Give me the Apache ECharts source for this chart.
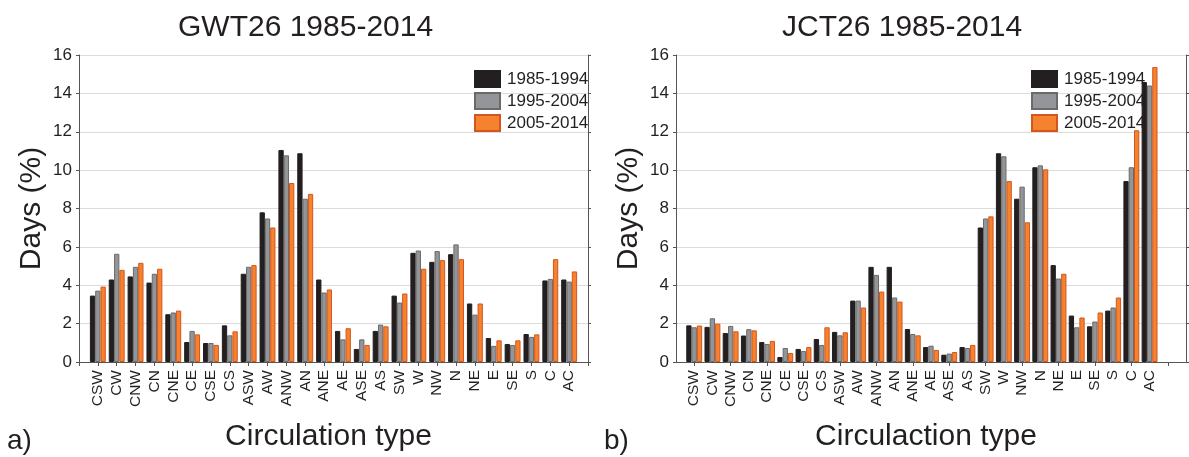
<!DOCTYPE html>
<html>
<head>
<meta charset="utf-8">
<script src="https://cdn.jsdelivr.net/npm/echarts@6/dist/echarts.min.js"></script>
<style>
  html, body { margin: 0; padding: 0; background: #fff; }
  #chart { width: 1189px; height: 457px; }
</style>
</head>
<body>
<div id="chart"></div>
<script>
// circulation types (same order in both panels)
const types = ['CSW', 'CW', 'CNW', 'CN', 'CNE', 'CE', 'CSE', 'CS', 'ASW', 'AW', 'ANW', 'AN', 'ANE',
  'AE', 'ASE', 'AS', 'SW', 'W', 'NW', 'N', 'NE', 'E', 'SE', 'S', 'C', 'AC'];
const periods = ['1985-1994', '1995-2004', '2005-2014'];
const yTicks = [0, 2, 4, 6, 8, 10, 12, 14, 16];

// a) GWT26, days (%)
const gwt1985 = [3.46, 4.30, 4.46, 4.14, 2.49, 1.04, 0.99, 1.91, 4.60, 7.80, 11.05, 10.88, 4.30,
  1.62, 0.68, 1.62, 3.46, 5.69, 5.22, 5.62, 3.05, 1.25, 0.94, 1.46, 4.25, 4.30];
const gwt1995 = [3.72, 5.64, 4.96, 4.60, 2.58, 1.62, 0.99, 1.39, 4.96, 7.48, 10.77, 8.51, 3.62,
  1.18, 1.18, 1.95, 3.10, 5.81, 5.78, 6.13, 2.47, 0.84, 0.89, 1.31, 4.33, 4.19];
const gwt2005 = [3.93, 4.80, 5.17, 4.86, 2.68, 1.44, 0.89, 1.60, 5.05, 7.01, 9.33, 8.76, 3.78,
  1.76, 0.89, 1.86, 3.57, 4.86, 5.31, 5.36, 3.05, 1.13, 1.13, 1.44, 5.36, 4.72];

// b) JCT26, days (%)
const jct1985 = [1.91, 1.83, 1.51, 1.38, 1.04, 0.26, 0.68, 1.20, 1.57, 3.20, 4.96, 4.96, 1.72,
  0.78, 0.38, 0.78, 7.01, 10.88, 8.51, 10.15, 5.05, 2.42, 1.86, 2.68, 9.43, 14.59];
const jct1995 = [1.81, 2.28, 1.88, 1.71, 0.94, 0.73, 0.57, 0.89, 1.39, 3.20, 4.54, 3.36, 1.46,
  0.85, 0.44, 0.73, 7.48, 10.72, 9.14, 10.25, 4.35, 1.81, 2.11, 2.84, 10.15, 14.41];
const jct2005 = [1.90, 2.00, 1.60, 1.65, 1.10, 0.47, 0.78, 1.81, 1.55, 2.84, 3.67, 3.15, 1.39,
  0.63, 0.52, 0.89, 7.59, 9.43, 7.28, 10.04, 4.60, 2.32, 2.58, 3.36, 12.08, 15.37];

const font = "'Liberation Sans', Arial, sans-serif";
const textColor = '#231f20';
const lineColor = '#555';
const fills = ['#231f20', '#939598', '#f5822f'];
const borders = ['#231f20', '#6a6a6a', '#d4561d'];

// empty slots at the ends so the axis runs past the first and last bar
const catsA = [''].concat(types, ['']);
const catsB = [''].concat(types, ['', '']);
function padA(v) { return [null].concat(v, [null]); }
function padB(v) { return [null].concat(v, [null, null]); }

function bottomAxis(grid, cats, tickInt, name) {
  return {
    type: 'category', gridIndex: grid, data: cats, boundaryGap: false, position: 'bottom',
    axisLine: { lineStyle: { color: lineColor, width: 1 } },
    axisTick: { interval: tickInt, length: 4, lineStyle: { color: lineColor } },
    axisLabel: { interval: 0, rotate: 90, margin: 8, fontSize: 15.5, fontFamily: font, color: textColor },
    name: name, nameLocation: 'middle', nameGap: 60,
    nameTextStyle: { fontSize: 30, fontFamily: font, color: textColor, padding: [0, 10, 0, 0] }
  };
}
function topAxis(grid, cats, tickInt) {
  return {
    type: 'category', gridIndex: grid, data: cats, boundaryGap: false, position: 'top',
    axisLine: { lineStyle: { color: lineColor, width: 1 } },
    axisTick: { inside: true, interval: tickInt, length: 3, lineStyle: { color: lineColor } },
    axisLabel: { show: false }
  };
}
function leftAxis(grid) {
  return {
    type: 'value', gridIndex: grid, min: yTicks[0], max: yTicks[yTicks.length - 1], interval: 2,
    position: 'left',
    axisLine: { show: true, lineStyle: { color: lineColor, width: 1 } },
    axisTick: { show: true, length: 3, lineStyle: { color: lineColor } },
    axisLabel: { margin: 7, fontSize: 17, fontFamily: font, color: textColor },
    splitLine: { show: true, lineStyle: { color: '#dcdcdc', width: 1.2 } },
    name: 'Days (%)', nameLocation: 'middle', nameGap: 32,
    nameTextStyle: { fontSize: 30, fontFamily: font, color: textColor }
  };
}
function rightAxis(grid) {
  return {
    type: 'value', gridIndex: grid, min: yTicks[0], max: yTicks[yTicks.length - 1], interval: 2,
    position: 'right',
    axisLine: { show: true, lineStyle: { color: lineColor, width: 1 } },
    axisTick: { show: true, length: 3, lineStyle: { color: lineColor } },
    axisLabel: { show: false },
    splitLine: { show: false }
  };
}
function bars(name, k, xi, yi, values) {
  return {
    name: name, type: 'bar', xAxisIndex: xi, yAxisIndex: yi, data: values,
    barWidth: 5.3, barGap: '0%',
    itemStyle: { color: fills[k], borderColor: borders[k], borderWidth: 1 },
    emphasis: { disabled: true }
  };
}
function legendAt(left) {
  return {
    data: periods, orient: 'vertical', left: left, top: 65, icon: 'rect',
    itemWidth: 25, itemHeight: 16, itemGap: 4,
    textStyle: { fontSize: 17, fontFamily: font, color: textColor, padding: [0, 0, 0, 2] },
    selectedMode: false
  };
}

const everyOther = function (idx) { return idx % 2 === 1; };

const chart = echarts.init(document.getElementById('chart'));
chart.setOption({
  backgroundColor: '#fff',
  animation: false,
  title: [
    { text: 'GWT26 1985-2014', left: 173, top: 8,
      textStyle: { fontSize: 30, fontWeight: 'normal', fontFamily: font, color: textColor } },
    { text: 'JCT26 1985-2014', left: 777, top: 8,
      textStyle: { fontSize: 30, fontWeight: 'normal', fontFamily: font, color: textColor } }
  ],
  legend: [legendAt(469), legendAt(1026)],
  grid: [
    { left: 79, top: 55, width: 509, height: 307 },
    { left: 676, top: 55, width: 510, height: 307 }
  ],
  xAxis: [
    bottomAxis(0, catsA, 0, 'Circulation type'),
    topAxis(0, catsA, 0),
    bottomAxis(1, catsB, everyOther, 'Circulaction type'),
    topAxis(1, catsB, everyOther)
  ],
  yAxis: [leftAxis(0), rightAxis(0), leftAxis(1), rightAxis(1)],
  graphic: [
    { type: 'text', left: 7, top: 427, style: { text: 'a)', fontSize: 28, fontFamily: font, fill: textColor } },
    { type: 'text', left: 604, top: 427, style: { text: 'b)', fontSize: 28, fontFamily: font, fill: textColor } }
  ],
  series: [
    bars(periods[0], 0, 0, 0, padA(gwt1985)),
    bars(periods[1], 1, 0, 0, padA(gwt1995)),
    bars(periods[2], 2, 0, 0, padA(gwt2005)),
    bars(periods[0], 0, 2, 2, padB(jct1985)),
    bars(periods[1], 1, 2, 2, padB(jct1995)),
    bars(periods[2], 2, 2, 2, padB(jct2005))
  ]
});
</script>
</body>
</html>
